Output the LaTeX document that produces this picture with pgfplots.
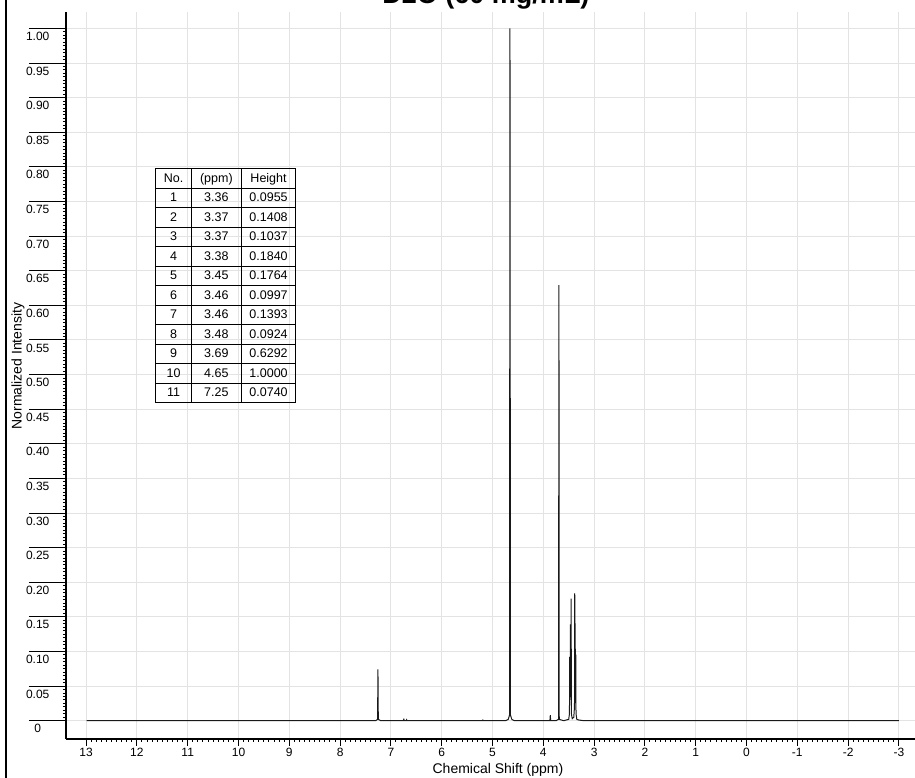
\documentclass[border=0pt]{standalone}
\usepackage{fontspec}
\setmainfont{Liberation Sans}
\usepackage{array}
\usepackage{pgfplots}
\pgfplotsset{compat=1.18}

\begin{document}
\begin{tikzpicture}[x=1pt,y=1pt]
\useasboundingbox (0,0) rectangle (915,778);
\clip (0,0) rectangle (915,778);
% frame line on the left edge
\draw[line width=2pt] (6,0) -- (6,778);

\begin{axis}[
  at={(66pt,39pt)}, anchor=south west,
  scale only axis, width=849pt, height=727pt,
  x dir=reverse,
  xmin=-3.317, xmax=13.396,
  ymin=-0.0264, ymax=1.0238,
  axis x line*=bottom, axis y line*=left,
  axis line style={-, line width=1.2pt},
  tick align=outside,
  xtick={-3,-2,-1,0,1,2,3,4,5,6,7,8,9,10,11,12,13},
  xticklabels={-3,-2,-1,0,1,2,3,4,5,6,7,8,9,10,11,12,13},
  ytick={0,0.05,0.10,0.15,0.20,0.25,0.30,0.35,0.40,0.45,0.50,0.55,0.60,0.65,0.70,0.75,0.80,0.85,0.90,0.95,1.00},
  yticklabels={0,0.05,0.10,0.15,0.20,0.25,0.30,0.35,0.40,0.45,0.50,0.55,0.60,0.65,0.70,0.75,0.80,0.85,0.90,0.95,1.00},
  minor x tick num=9, minor y tick num=9,
  xtick style={/pgfplots/major tick length=7pt, line width=1pt, black},
  ytick style={/pgfplots/major tick length=37pt, line width=1pt, black},
  minor tick length=3pt,
  grid=major, grid style={gray!22, line width=1pt},
  every tick label/.append style={font=\fontsize{12}{14}\selectfont},
  xticklabel style={font=\fontsize{12}{14}\selectfont, anchor=north, inner sep=0pt, yshift=-5pt},
  yticklabel style={font=\fontsize{12}{14}\selectfont, anchor=north, inner sep=0pt, xshift=-24pt, yshift=-3.5pt},
  xlabel={Chemical Shift (ppm)},
  ylabel={Normalized Intensity},
  xlabel style={font=\fontsize{14}{16}\selectfont, at={(axis description cs:0.5088,0)}, anchor=base, yshift=-34.3pt},
  ylabel style={font=\fontsize{14}{16}\selectfont, at={(axis description cs:-0.0565,0.513)}, anchor=center},
  title={D2O (60 mg/mL)},
  title style={font=\bfseries\fontsize{27}{30}\selectfont, at={(axis description cs:0.4947,1)}, anchor=base, yshift=2pt},
  clip=false,
]
\addplot[black!90, line width=1pt, sharp plot] coordinates {
  (12.99,0) (9.0,0) (7.30,0) (7.262,0.002) (7.255,0.0740) (7.248,0.002) (7.20,0)
  (6.76,0) (6.745,0.002) (6.735,0) (6.70,0) (6.69,0.0015) (6.68,0)
  (5.20,0) (5.19,0.001) (5.18,0)
  (4.74,0) (4.69,0.002) (4.665,0.008) (4.656,1.0000) (4.646,0.008) (4.62,0.002) (4.57,0)
  (3.87,0) (3.862,0.008) (3.855,0)
  (3.75,0) (3.70,0.002) (3.692,0.6292) (3.686,0.002) (3.60,0)
  (3.50,0.002) (3.485,0.01) (3.480,0.0924) (3.476,0.03) (3.470,0.045) (3.466,0.1393)
  (3.462,0.05) (3.459,0.0997) (3.456,0.04) (3.452,0.1764) (3.447,0.01) (3.43,0.003)
  (3.40,0.005) (3.386,0.02) (3.381,0.1840) (3.377,0.06) (3.374,0.1408) (3.371,0.05)
  (3.368,0.1037) (3.365,0.04) (3.361,0.0955) (3.356,0.01) (3.34,0.002) (3.30,0.001)
  (3.20,0) (-3.0,0)
};
\end{axis}

\node[anchor=north west, inner sep=0pt, font=\fontsize{12.5}{18.5}\selectfont] at (155pt,610pt) {%
\setlength\tabcolsep{0pt}\setlength\arrayrulewidth{1pt}%
\begin{tabular}{|>{\centering\arraybackslash}p{34.7pt}|>{\centering\arraybackslash}p{49pt}|>{\centering\arraybackslash}p{53.3pt}|}
\hline
No. & (ppm) & Height\\ \hline
1 & 3.36 & 0.0955\\ \hline
2 & 3.37 & 0.1408\\ \hline
3 & 3.37 & 0.1037\\ \hline
4 & 3.38 & 0.1840\\ \hline
5 & 3.45 & 0.1764\\ \hline
6 & 3.46 & 0.0997\\ \hline
7 & 3.46 & 0.1393\\ \hline
8 & 3.48 & 0.0924\\ \hline
9 & 3.69 & 0.6292\\ \hline
10 & 4.65 & 1.0000\\ \hline
11 & 7.25 & 0.0740\\ \hline
\end{tabular}};
\end{tikzpicture}
\end{document}
